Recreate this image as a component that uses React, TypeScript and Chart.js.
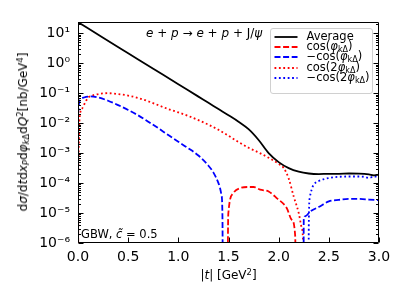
import React, { useEffect, useRef } from "react";
import { Chart, registerables } from "chart.js";
Chart.register(...registerables);

// ---- data (|t| in GeV^2, cross-section in nb/GeV^4) ----
const avgT = [0, 0.25, 0.5, 0.75, 1.0, 1.2, 1.3, 1.4, 1.5, 1.6, 1.7, 1.8, 1.9, 2.0, 2.1, 2.2, 2.3, 2.4, 2.5, 2.6, 2.7, 2.8, 2.9, 2.95, 3.0];
const avgV = [23.5, 7.1, 2.16, 0.657, 0.2, 0.0769, 0.0478, 0.0296, 0.0184, 0.0112, 6.3e-3, 2.75e-3, 1.0e-3, 5.0e-4, 3.16e-4, 2.4e-4, 2.09e-4, 2.0e-4, 2.04e-4, 2.04e-4, 2.09e-4, 2.07e-4, 1.95e-4, 1.82e-4, 1.9e-4];

const cos1T = [0, 0.004, null, 1.49, 1.495, 1.5, 1.55, 1.617, 1.7, 1.75, 1.815, 1.9, 1.98, 2.08, 2.13, 2.165, 2.175];
const cos1V = [0.015, 1e-10, null, 1e-10, 2.5e-6, 1.12e-5, 4.7e-5, 6.8e-5, 7.4e-5, 7.4e-5, 6.0e-5, 5.25e-5, 3.16e-5, 1.48e-5, 6.0e-6, 1.66e-6, 1e-10];

const mcos1T = [0, 0.01, 0.03, 0.06, 0.12, 0.2, 0.3, 0.4, 0.5, 0.6, 0.7, 0.8, 0.9, 1.0, 1.1, 1.2, 1.3, 1.35, 1.4, 1.43, 1.44, 1.445, null, 2.247, 2.25, 2.264, 2.314, 2.41, 2.5, 2.6, 2.7, 2.8, 2.9, 3.0];
const mcos1V = [0.02, 0.045, 0.063, 0.072, 0.078, 0.072, 0.056, 0.04, 0.0275, 0.0182, 0.0112, 6.8e-3, 4.0e-3, 2.4e-3, 1.45e-3, 8.3e-4, 3.8e-4, 2.24e-4, 1.0e-4, 4.0e-5, 6.3e-6, 1e-10, null, 1e-10, 6.0e-6, 7.8e-6, 1.12e-5, 1.66e-5, 2.45e-5, 2.75e-5, 2.95e-5, 2.95e-5, 2.82e-5, 2.7e-5];

const cos2T = [0, 0.016, 0.043, 0.076, 0.1, 0.15, 0.22, 0.3, 0.4, 0.5, 0.6, 0.7, 0.8, 0.9, 1.0, 1.1, 1.2, 1.3, 1.4, 1.5, 1.6, 1.7, 1.8, 1.9, 2.0, 2.05, 2.1, 2.15, 2.2, 2.23, 2.245, 2.25];
const cos2V = [1e-4, 0.0148, 0.0316, 0.0525, 0.0708, 0.0851, 0.0955, 0.1, 0.0933, 0.0832, 0.0692, 0.0537, 0.0398, 0.0295, 0.0229, 0.0174, 0.0126, 8.9e-3, 6.0e-3, 3.8e-3, 2.34e-3, 1.51e-3, 1.05e-3, 7.0e-4, 4.4e-4, 3.2e-4, 1.41e-4, 3.55e-5, 1.0e-5, 3.2e-6, 6.3e-7, 1e-10];

const mcos2T = [2.297, 2.3, 2.31, 2.33, 2.35, 2.4, 2.5, 2.6, 2.7, 2.8, 2.85, 2.9, 2.95, 3.0];
const mcos2V = [1e-10, 3.2e-6, 3.2e-5, 6.3e-5, 8.9e-5, 1.17e-4, 1.48e-4, 1.62e-4, 1.66e-4, 1.66e-4, 1.62e-4, 1.48e-4, 1.66e-4, 1.58e-4];

const xTicks = [0, 0.5, 1.0, 1.5, 2.0, 2.5, 3.0];
const yDecades = [-6, -5, -4, -3, -2, -1, 0, 1];
const Y_MIN = 1e-6;
const Y_MAX = 23.8;

const SUP: Record<string, string> = { "-": "\u207B", "0": "\u2070", "1": "\u00B9", "2": "\u00B2", "3": "\u00B3", "4": "\u2074", "5": "\u2075", "6": "\u2076", "7": "\u2077", "8": "\u2078", "9": "\u2079" };
const sup = (n: number) => String(n).split("").map((c) => SUP[c] || c).join("");

const FONT = "'DejaVu Sans', sans-serif";

const pts = (t: (number | null)[], v: (number | null)[]) => t.map((x, i) => ({ x: x as any, y: v[i] as any }));

const framePlugin = {
  id: "frame",
  afterDatasetsDraw(chart: any) {
    const { ctx, chartArea } = chart;
    const xs = chart.scales.x;
    const ys = chart.scales.y;
    const L = Math.round(chartArea.left) + 0.5;
    const R = Math.round(chartArea.right) - 0.5;
    const T = Math.round(chartArea.top) + 0.5;
    const B = Math.round(chartArea.bottom) - 0.5;
    ctx.save();
    ctx.strokeStyle = "#000";
    ctx.lineWidth = 1;
    ctx.beginPath();
    ctx.rect(L, T, R - L, B - T);
    ctx.stroke();
    ctx.beginPath();
    for (const d of yDecades) {
      for (let m = 1; m <= 9; m++) {
        const v = m * Math.pow(10, d);
        if (v < Y_MIN || v > Y_MAX) continue;
        const y = Math.round(ys.getPixelForValue(v)) + 0.5;
        const len = m === 1 ? 5 : 2.5;
        ctx.moveTo(L, y); ctx.lineTo(L + len, y);
        ctx.moveTo(R, y); ctx.lineTo(R - len, y);
      }
    }
    for (const t of xTicks) {
      const x = Math.round(xs.getPixelForValue(t)) + 0.5;
      ctx.moveTo(x, B); ctx.lineTo(x, B - 5);
    }
    ctx.stroke();
    ctx.restore();
  },
};

const LW = 1.8;
const DASH = [6, 2.6];
const DOT = [1.8, 2.6];

const legendRows = [
  { color: "#000000", dash: [] as number[], label: <>Average</> },
  { color: "#ff0000", dash: DASH, label: <>cos(<i>φ</i><sub>kΔ</sub>)</> },
  { color: "#0000ff", dash: DASH, label: <>−cos(<i>φ</i><sub>kΔ</sub>)</> },
  { color: "#ff0000", dash: DOT, label: <>cos(2<i>φ</i><sub>kΔ</sub>)</> },
  { color: "#0000ff", dash: DOT, label: <>−cos(2<i>φ</i><sub>kΔ</sub>)</> },
];
const legendY = [36.7, 46.9, 57.3, 67.6, 78];

export default function App() {
  const ref = useRef<HTMLCanvasElement>(null);
  useEffect(() => {
    if (!ref.current) return;
    const common = { borderWidth: LW, pointRadius: 0, cubicInterpolationMode: "monotone" };
    const chart = new Chart(ref.current, {
      type: "line",
      data: {
        datasets: [
          { label: "Average", data: pts(avgT, avgV), borderColor: "#000", ...common },
          { label: "cos(φkΔ)", data: pts(cos1T, cos1V), borderColor: "#ff0000", borderDash: DASH, ...common },
          { label: "−cos(φkΔ)", data: pts(mcos1T, mcos1V), borderColor: "#0000ff", borderDash: DASH, ...common },
          { label: "cos(2φkΔ)", data: pts(cos2T, cos2V), borderColor: "#ff0000", borderDash: DOT, ...common },
          { label: "−cos(2φkΔ)", data: pts(mcos2T, mcos2V), borderColor: "#0000ff", borderDash: DOT, ...common },
        ] as any,
      },
      options: {
        animation: false,
        responsive: false,
        devicePixelRatio: 1,
        spanGaps: false,
        layout: { padding: { left: 0, top: 22, right: 20, bottom: 0 } },
        plugins: { legend: { display: false }, tooltip: { enabled: false } },
        scales: {
          x: {
            type: "linear",
            min: 0,
            max: 3,
            grid: { display: false, drawTicks: false },
            border: { display: false },
            afterBuildTicks: (s: any) => { s.ticks = xTicks.map((v) => ({ value: v })); },
            afterFit: (s: any) => { s.height = 56; },
            ticks: {
              color: "#000",
              padding: 6,
              maxRotation: 0,
              autoSkip: false,
              font: { family: FONT, size: 14 },
              callback: (v: any) => Number(v).toFixed(1),
            },
          },
          y: {
            type: "logarithmic",
            min: Y_MIN,
            max: Y_MAX,
            grid: { display: false, drawTicks: false },
            border: { display: false },
            afterBuildTicks: (s: any) => { s.ticks = yDecades.map((d) => ({ value: Math.pow(10, d) })); },
            afterFit: (s: any) => { s.width = 78; },
            ticks: {
              color: "#000",
              padding: 8,
              autoSkip: false,
              font: { family: FONT, size: 14 },
              callback: (v: any) => "10" + sup(Math.round(Math.log10(Number(v)))),
            },
          },
        },
      } as any,
      plugins: [framePlugin],
    });
    return () => chart.destroy();
  }, []);

  const txt: React.CSSProperties = { position: "absolute", fontFamily: FONT, color: "#000", whiteSpace: "nowrap", lineHeight: 1 };
  const subStyle = `sub{font-size:0.7em;vertical-align:-0.25em;line-height:0}`;
  const supS: React.CSSProperties = { fontSize: "0.7em", verticalAlign: "0.45em", lineHeight: 0 };

  return (
    <div style={{ position: "absolute", left: 0, top: 0, width: 399, height: 299, background: "#fff", overflow: "hidden" }}>
      <style>{subStyle}</style>
      <canvas ref={ref} width={399} height={299} style={{ position: "absolute", left: 0, top: 0, width: 399, height: 299 }} />
      <div style={{ ...txt, left: 146, top: 27, fontSize: 12 }}>
        <i>e</i> + <i>p</i> → <i>e</i> + <i>p</i> + J/<i>ψ</i>
      </div>
      <div style={{ ...txt, left: 81, top: 229, fontSize: 11.5 }}>
        GBW, <i>c̃</i> = 0.5
      </div>
      <div style={{ ...txt, left: 228.5, top: 275, fontSize: 12, transform: "translate(-50%,-50%)" }}>
        |<i>t</i>| [GeV<sup style={supS}>2</sup>]
      </div>
      <div style={{ position: "absolute", left: 23, top: 131.5, width: 0, height: 0 }}>
        <div style={{ ...txt, left: 0, top: 0, fontSize: 12, transform: "translate(-50%,-50%) rotate(-90deg)" }}>
          d<i>σ</i>/d<i>t</i>d<i>x</i><sub><i>P</i></sub>d<i>φ</i><sub><i>k</i>Δ</sub>d<i>Q</i>
          <sup style={supS}>2</sup>[nb/GeV<sup style={supS}>4</sup>]
        </div>
      </div>
      <div style={{ position: "absolute", left: 269.5, top: 27.5, width: 103, height: 66, border: "1px solid #d0d0d0", borderRadius: 3, background: "rgba(255,255,255,0.8)", boxSizing: "border-box" }} />
      {legendRows.map((r, i) => (
        <React.Fragment key={i}>
          <svg style={{ position: "absolute", left: 274, top: legendY[i] - 3 }} width={24} height={6}>
            <line x1={0.5} y1={3} x2={23.5} y2={3} stroke={r.color} strokeWidth={LW} strokeDasharray={r.dash.length ? r.dash.join(",") : undefined} />
          </svg>
          <div style={{ ...txt, left: 306.5, top: legendY[i] - 6, fontSize: 11.5 }}>{r.label}</div>
        </React.Fragment>
      ))}
    </div>
  );
}
